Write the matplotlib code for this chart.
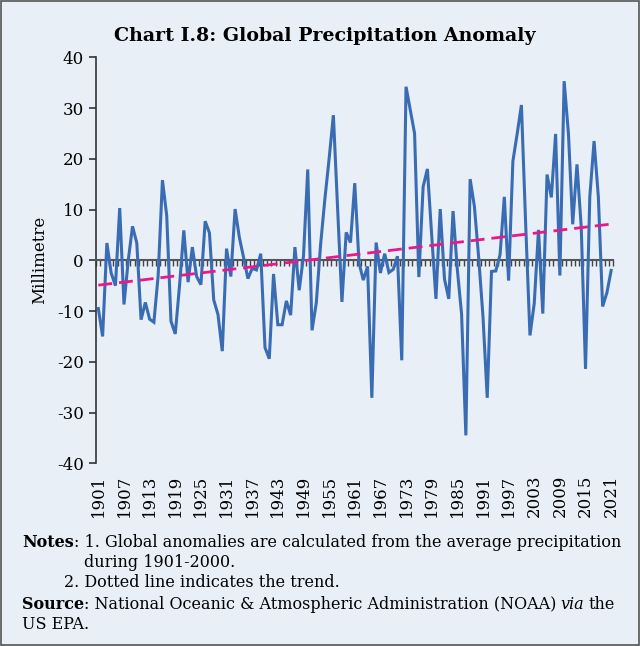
import numpy as np
import matplotlib
matplotlib.use("Agg")
import matplotlib.pyplot as plt
from matplotlib.patches import Rectangle

plt.rcParams['font.family'] = ['DejaVu Serif']
plt.rcParams['axes.unicode_minus'] = False

#%%
# data (mm anomaly, 1901-2021)
years = np.arange(1901, 2022)
anomaly = [
    -9.5, -15.0, 3.4, -2.5, -5.0, 10.3, -8.7, 0.0, 6.7, 3.4,
    -11.7, -8.3, -11.6, -12.2, -3.0, 15.8, 8.8, -12.0, -14.5, -5.0,
    5.9, -4.3, 2.6, -3.2, -4.8, 7.7, 5.4, -7.8, -10.7, -17.9,
    2.3, -3.2, 10.1, 4.5, 0.5, -3.6, -1.6, -1.9, 1.3, -17.2,
    -19.4, -2.7, -12.7, -12.7, -8.0, -10.8, 2.6, -5.9, 0.8, 17.9,
    -13.8, -8.4, 3.0, 12.0, 20.0, 28.6, 10.0, -8.2, 5.5, 3.5,
    15.2, -0.5, -3.9, -1.2, -27.1, 3.5, -2.5, 1.3, -2.4, -1.8,
    0.8, -19.7, 34.2, 29.6, 25.0, -3.3, 14.5, 18.0, 5.0, -7.6,
    10.1, -3.7, -7.6, 9.7, -1.8, -10.6, -34.5, 16.0, 10.6, 0.5,
    -11.0, -27.1, -2.2, -2.1, 1.1, 12.5, -4.0, 19.5, 24.9, 30.6,
    7.0, -14.8, -8.5, 6.0, -10.5, 16.9, 12.4, 24.9, -3.0, 35.3,
    25.0, 7.1, 18.9, 6.5, -21.4, 12.5, 23.5, 12.5, -9.1, -6.4,
    -2.0,
]
label_years = list(range(1901, 2022, 6))
y_ticks = list(range(-40, 41, 10))

title = "Chart I.8: Global Precipitation Anomaly"
bg = '#e8eff7'

#%%
fig = plt.figure(figsize=(6.4, 6.46), dpi=100, facecolor=bg)
ax = fig.add_axes([96.2/640, 1-463.3/646, (613.3-96.2)/640, (463.3-57.3)/646])
ax.set_facecolor(bg)

ax.plot(years, anomaly, color='#3a6cb4', lw=2.2, zorder=3, solid_joinstyle='miter')

# linear trend
k, b = np.polyfit(years, anomaly, 1)
ax.plot([years[0], years[-1]], [k*years[0]+b, k*years[-1]+b], color='#e8198a',
        lw=2.0, dashes=(5, 2.5), zorder=4)

ax.set_xlim(1900.5, 2021.5)
ax.set_ylim(-40, 40)
ax.set_yticks(y_ticks)
ax.set_yticklabels([str(v) for v in y_ticks], fontsize=12)
ax.tick_params(axis='y', direction='out', length=5, width=1.2, color='#333333', pad=4)
ax.set_ylabel('Millimetre', fontsize=12, labelpad=6)

for s in ['top', 'right']:
    ax.spines[s].set_visible(False)
ax.spines['left'].set_color('#333333')
ax.spines['left'].set_linewidth(1.2)
ax.spines['bottom'].set_position(('data', 0))
ax.spines['bottom'].set_color('#555555')
ax.spines['bottom'].set_linewidth(1.5)
ax.set_xticks([])
ax.set_xticks(np.arange(1900.5, 2022, 1), minor=True)
ax.tick_params(axis='x', which='minor', direction='out', length=4, width=1.0, color='#444444')

# year labels under the plot
sec = ax.secondary_xaxis('bottom')
sec.set_xticks(label_years)
sec.set_xticklabels([str(y) for y in label_years], rotation=90, fontsize=12)
sec.tick_params(length=0, pad=8)
sec.spines['bottom'].set_visible(False)

fig.text(0.508, 0.944, title, ha='center', va='center', fontsize=13.7, fontweight='bold')

#%%
# notes under the chart
r = fig.canvas.get_renderer()
fs = 11.5

def put(x, y, parts):
    for s, kw in parts:
        t = fig.text(x, y, s, fontsize=fs, va='baseline', **kw)
        x += t.get_window_extent(renderer=r).width / 640

put(22/640, 1-547/646, [('Notes', dict(fontweight='bold')),
                        (': 1. Global anomalies are calculated from the average precipitation', {})])
put(84/640, 1-567/646, [('during 1901-2000.', {})])
put(64/640, 1-587/646, [('2. Dotted line indicates the trend.', {})])
put(22/640, 1-609/646, [('Source', dict(fontweight='bold')),
                        (': National Oceanic & Atmospheric Administration (NOAA)', {})])
t = fig.texts[-1]
xe = (t.get_window_extent(renderer=r).x1 + 4) / 640
put(xe, 1-609/646, [('via', dict(style='italic'))])
xe = (fig.texts[-1].get_window_extent(renderer=r).x1 + 4) / 640
put(xe, 1-609/646, [('the', {})])
put(22/640, 1-629/646, [('US EPA.', {})])

fig.patches.append(Rectangle((0.001, 0.001), 0.997, 0.997, transform=fig.transFigure,
                             fill=False, edgecolor='#555555', lw=1.2))

fig.savefig('out.png', dpi=100, facecolor=bg)
